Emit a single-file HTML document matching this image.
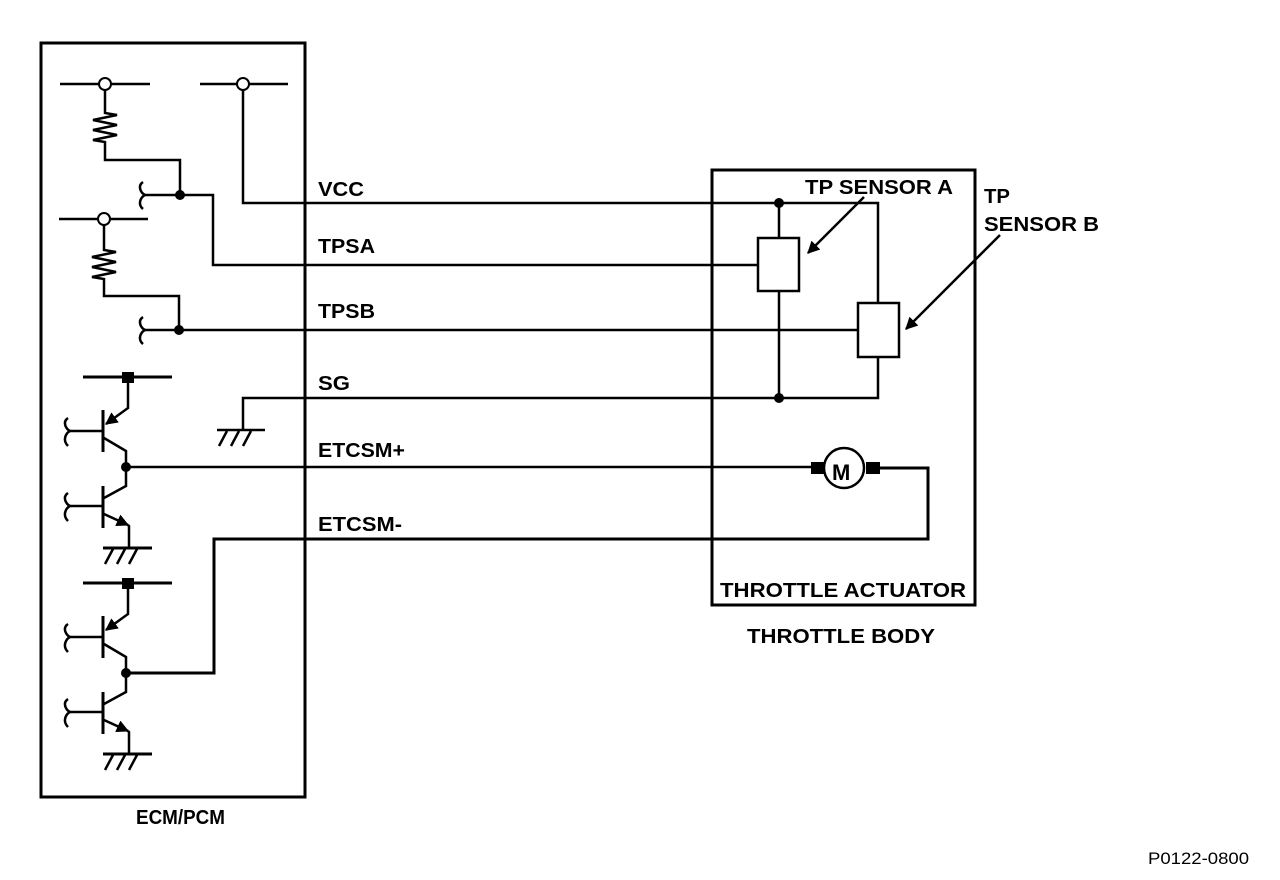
<!DOCTYPE html>
<html><head><meta charset="utf-8"><style>
html,body{margin:0;padding:0;background:#fff;}
svg{display:block;}
text{font-family:"Liberation Sans",Arial,sans-serif;font-weight:bold;font-size:20px;fill:#000;}
</style></head><body>
<svg width="1280" height="880" viewBox="0 0 1280 880" xmlns="http://www.w3.org/2000/svg">
<defs>
<marker id="ah" viewBox="0 0 10 10" refX="9" refY="5" markerWidth="5" markerHeight="5" orient="auto"><path d="M0,0 L10,5 L0,10 z" fill="#000"/></marker>
</defs>
<g fill="none" stroke="#000" stroke-width="2.5">
<rect x="41" y="43" width="264" height="754" stroke-width="3"/>
<rect x="712" y="170" width="263" height="435" stroke-width="3"/>
<line x1="60" y1="84" x2="150" y2="84"/>
<line x1="200" y1="84" x2="288" y2="84"/>
<line x1="59" y1="219" x2="148" y2="219"/>
<polyline points="105,90 105,113 117,115 93,120 117,125 93,130 117,135 93,140 105,142 105,160 180,160 180,195"/>
<polyline points="104,225 104,250 116,252 92,257 116,262 92,267 116,272 92,277 104,279 104,296 179,296 179,330"/>
<polyline points="145,195 213,195 213,265 758,265"/>
<polyline points="243,90 243,203 878,203 878,303"/>
<line x1="145" y1="330" x2="858" y2="330"/>
<path d="M143,182 C137,186 141,193 145,195 C141,197 137,204 143,209"/>
<path d="M143,317 C137,321 141,328 145,330 C141,332 137,339 143,344"/>
<rect x="758" y="238" width="41" height="53"/>
<line x1="779" y1="203" x2="779" y2="238"/>
<line x1="779" y1="291" x2="779" y2="398"/>
<rect x="858" y="303" width="41" height="54"/>
<polyline points="878,357 878,398 243,398 243,430"/>
<line x1="217" y1="430" x2="265" y2="430"/>
<line x1="227" y1="431" x2="219" y2="446"/><line x1="239" y1="431" x2="231" y2="446"/><line x1="251" y1="431" x2="243" y2="446"/>
<line x1="864" y1="197" x2="808" y2="253" marker-end="url(#ah)"/>
<line x1="1000" y1="235" x2="906" y2="329" marker-end="url(#ah)"/>
<line x1="126" y1="467" x2="812" y2="467"/>
<polyline points="880,468 928,468 928,539 214,539 214,673 126,673" stroke-width="3"/>
<circle cx="844" cy="468" r="20"/>
</g>
<rect x="811" y="462" width="14" height="12" fill="#000"/>
<rect x="866" y="462" width="14" height="12" fill="#000"/>
<text x="832" y="480" style="font-size:22px">M</text>

<g id="tg">
<g fill="none" stroke="#000" stroke-width="2.5">
<line x1="83" y1="377" x2="172" y2="377" stroke-width="3"/>
<polyline points="128,377 128,408 106,424" marker-end="url(#ah)"/>
<line x1="103" y1="410" x2="103" y2="452" stroke-width="3"/>
<line x1="70" y1="431" x2="103" y2="431"/>
<path d="M68,418 C62,422 66,429 70,431 C66,433 62,440 68,446"/>
<polyline points="104,438 126,451 126,486 104,498"/>
<line x1="103" y1="486" x2="103" y2="528" stroke-width="3"/>
<line x1="70" y1="506" x2="103" y2="506"/>
<path d="M68,493 C62,497 66,504 70,506 C66,508 62,515 68,521"/>
<polyline points="104,514 128,525" marker-end="url(#ah)"/>
<polyline points="128,525 129,526 129,548"/>
<line x1="103" y1="548" x2="152" y2="548" stroke-width="3"/>
<line x1="113" y1="549" x2="105" y2="564"/><line x1="125" y1="549" x2="117" y2="564"/><line x1="137" y1="549" x2="129" y2="564"/>
</g>
<rect x="122" y="372" width="12" height="11" fill="#000"/>
</g>
<use href="#tg" transform="translate(0,206)"/>

<g fill="#fff" stroke="#000" stroke-width="2">
<circle cx="105" cy="84" r="6"/>
<circle cx="243" cy="84" r="6"/>
<circle cx="104" cy="219" r="6"/>
</g>
<g fill="#000">
<circle cx="180" cy="195" r="5"/>
<circle cx="179" cy="330" r="5"/>
<circle cx="779" cy="203" r="5"/>
<circle cx="779" cy="398" r="5"/>
<circle cx="126" cy="467" r="5"/>
<circle cx="126" cy="673" r="5"/>
</g>

<g>
<text x="318" y="196" textLength="46" lengthAdjust="spacingAndGlyphs">VCC</text>
<text x="318" y="253" textLength="57" lengthAdjust="spacingAndGlyphs">TPSA</text>
<text x="318" y="318" textLength="57" lengthAdjust="spacingAndGlyphs">TPSB</text>
<text x="318" y="390" textLength="32" lengthAdjust="spacingAndGlyphs">SG</text>
<text x="318" y="457" textLength="87" lengthAdjust="spacingAndGlyphs">ETCSM+</text>
<text x="318" y="531" textLength="84" lengthAdjust="spacingAndGlyphs">ETCSM-</text>
<text x="805" y="194" textLength="148" lengthAdjust="spacingAndGlyphs">TP SENSOR A</text>
<text x="984" y="203" textLength="26" lengthAdjust="spacingAndGlyphs">TP</text>
<text x="984" y="231" textLength="115" lengthAdjust="spacingAndGlyphs">SENSOR B</text>
<text x="720" y="597" textLength="246" lengthAdjust="spacingAndGlyphs">THROTTLE ACTUATOR</text>
<text x="747" y="643" textLength="188" lengthAdjust="spacingAndGlyphs">THROTTLE BODY</text>
<text x="136" y="824" textLength="89" lengthAdjust="spacingAndGlyphs">ECM/PCM</text>
<text x="1148" y="864" style="font-weight:normal;font-size:17px" textLength="101" lengthAdjust="spacingAndGlyphs">P0122-0800</text>
</g>
</svg>
</body></html>
